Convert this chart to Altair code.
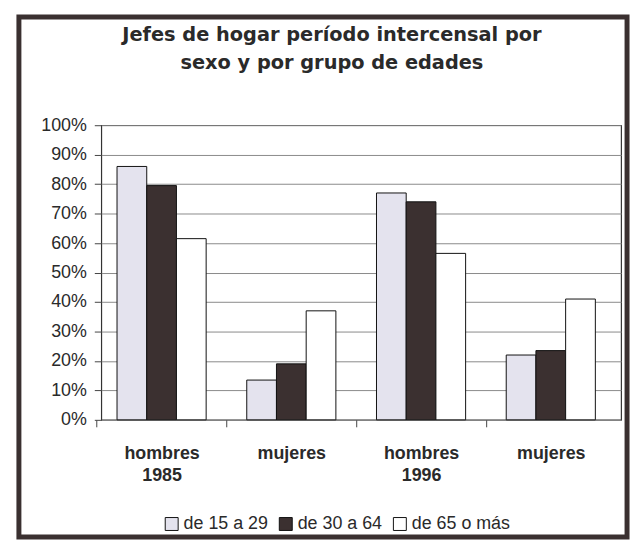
import altair as alt
import pandas as pd

grupos = ["hombres 1985", "mujeres 1985", "hombres 1996", "mujeres 1996"]
edades = ["de 15 a 29", "de 30 a 64", "de 65 o más"]
v15 = [86, 13.5, 77, 22]
v30 = [79.5, 19, 74, 23.5]
v65 = [61.5, 37, 56.5, 41]
colores = ["#e4e3ee", "#3b3030", "#ffffff"]

rows = []
for i, g in enumerate(grupos):
    for e, vals in zip(edades, [v15, v30, v65]):
        rows.append({"grupo": g, "edad": e, "valor": vals[i]})
df = pd.DataFrame(rows)

W, H = 524, 297
STEP = W / (len(grupos) - 0.313 + 2 * 0.16)
FONT = "Liberation Sans"

bars = alt.Chart(df).mark_bar(stroke="#111", strokeWidth=1).encode(
    x=alt.X("grupo:N", sort=grupos, title=None,
            scale=alt.Scale(paddingInner=0.313, paddingOuter=0.16, align=0.38),
            axis=alt.Axis(
                labelExpr="indexof(datum.value,'hombres')>=0 ? split(datum.value,' ') : split(datum.value,' ')[0]",
                labelAngle=0, labelFont=FONT, labelFontSize=18, labelFontWeight="bold",
                labelColor="#2a2a2a", labelPadding=18, labelLineHeight=22,
                tickSize=7, tickColor="#444",
                tickOffset=-STEP / 2, labelOffset=STEP / 2,
                domain=False, grid=False)),
    xOffset=alt.XOffset("edad:N", sort=edades),
    y=alt.Y("valor:Q", title=None,
            scale=alt.Scale(domain=[0, 100], nice=False),
            axis=alt.Axis(values=list(range(0, 101, 10)),
                          labelExpr="datum.value + '%'",
                          labelFont=FONT, labelFontSize=18, labelColor="#2a2a2a",
                          labelPadding=8, tickSize=7, tickColor="#444",
                          domain=False, gridColor="#8a8a8a", gridWidth=1)),
    color=alt.Color("edad:N", sort=edades, title=None,
                    scale=alt.Scale(domain=edades, range=colores),
                    legend=alt.Legend(orient="none", direction="horizontal",
                                      legendX=62, legendY=393, padding=0,
                                      symbolType="square", symbolSize=170,
                                      symbolStrokeColor="#111", symbolStrokeWidth=1,
                                      labelFont=FONT, labelFontSize=18, labelOffset=3,
                                      labelColor="#2a2a2a", columnPadding=8)),
)

frame = alt.Chart(pd.DataFrame({"marco": [1]})).mark_rect(
    fill="white", fillOpacity=0, stroke="#3a3030", strokeWidth=5, clip=False
).encode(x=alt.value(-83), x2=alt.value(W + 6), y=alt.value(-109), y2=alt.value(H + 118))

chart = alt.layer(bars, frame).properties(
    width=W, height=H,
    title=alt.TitleParams(
        ["Jefes de hogar período intercensal por", "sexo y por grupo de edades"],
        font="DejaVu Sans", fontSize=19.5, fontWeight="bold", color="#2a2a2a",
        lineHeight=28, anchor="middle", frame="bounds", offset=-59.5, dx=9),
    padding={"left": 8, "top": 4, "right": 2, "bottom": 2},
    background="white",
).configure_view(stroke="#333", strokeWidth=1.2)

chart.save("out.html", embed_options={"renderer": "svg", "actions": False})
